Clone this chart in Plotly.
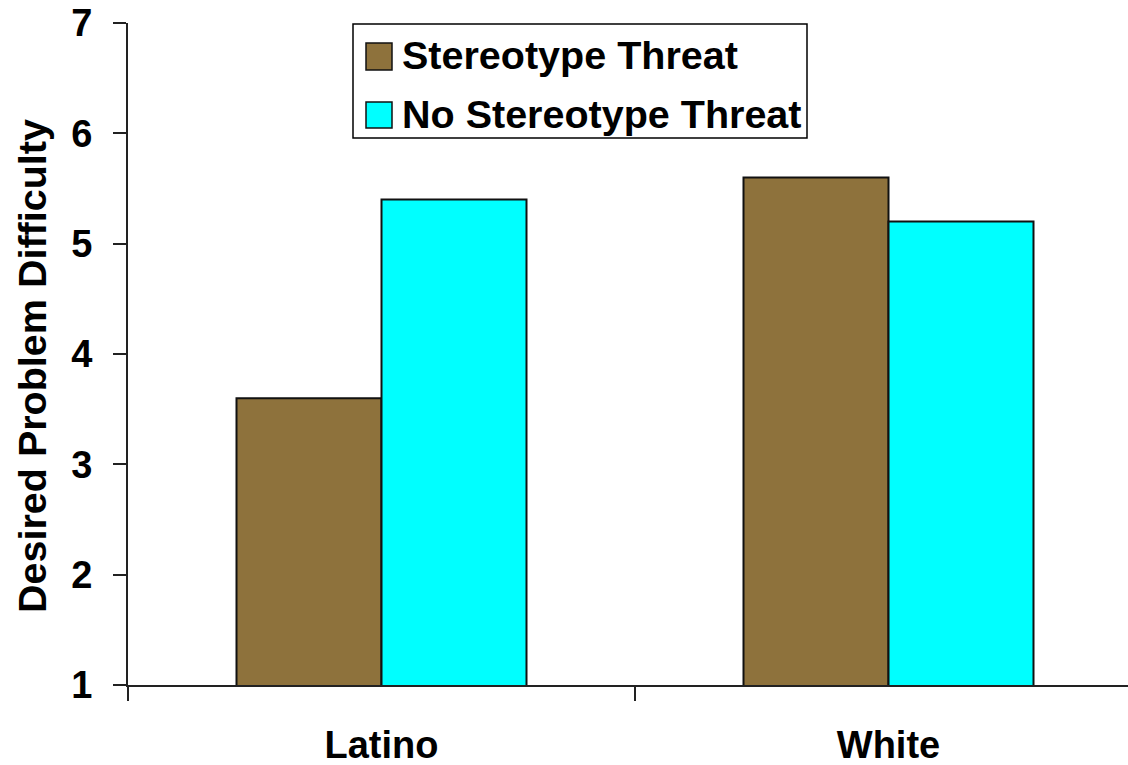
import plotly.graph_objects as go

groups = ["Latino", "White"]
threat = [3.6, 5.6]
no_threat = [5.4, 5.2]
series_names = ["Stereotype Threat", "No Stereotype Threat"]
series_colors = ["#8E723C", "#00FFFF"]
y_ticks = [1, 2, 3, 4, 5, 6, 7]

FONT = "Arial, 'Liberation Sans', sans-serif"

W, H = 1128, 765
L, R, T, B = 128, 0, 23, 80
plot_w = W - L - R
plot_h = H - T - B


def px_x(x):
    return (x - L) / plot_w


def px_y(y):
    return (H - B - y) / plot_h


fig = go.Figure()
for name, vals, col in zip(series_names, [threat, no_threat], series_colors):
    fig.add_trace(go.Bar(
        x=groups, y=vals, name=name, showlegend=False,
        marker=dict(color=col, line=dict(color="#111111", width=2)),
    ))

# category width in px is 507, so the visible range ends short of the last boundary
cat_px = 507
fig.update_layout(
    width=W, height=H,
    margin=dict(l=L, r=R, t=T, b=B),
    paper_bgcolor="white", plot_bgcolor="white",
    barmode="group", bargap=0.428, bargroupgap=0,
    font=dict(family=FONT, color="black", size=38, weight="bold"),
    xaxis=dict(
        range=[-0.5, -0.5 + plot_w / cat_px],
        showline=True, linecolor="#222222", linewidth=2,
        ticks="outside", tickson="boundaries", ticklen=14, tickwidth=2,
        tickcolor="#222222", showgrid=False, zeroline=False,
        tickfont=dict(family=FONT, size=38, weight="bold", color="black"),
        ticklabelstandoff=25,
    ),
    yaxis=dict(
        range=[1, 7], tickvals=y_ticks,
        showline=True, linecolor="#222222", linewidth=2,
        ticks="outside", ticklen=13, tickwidth=2, tickcolor="#222222",
        showgrid=False, zeroline=False,
        tickfont=dict(family=FONT, size=38, weight="bold", color="black"),
        ticklabelstandoff=13,
    ),
)

# axis title
fig.add_annotation(
    text="Desired Problem Difficulty", textangle=-90,
    xref="paper", yref="paper", x=px_x(32), y=px_y(366),
    xanchor="center", yanchor="middle", showarrow=False,
    font=dict(family=FONT, size=39.5, weight="bold", color="black"),
)

# boxed legend
fig.add_shape(
    type="rect", xref="paper", yref="paper",
    x0=px_x(353), x1=px_x(807), y0=px_y(138), y1=px_y(24),
    line=dict(color="black", width=1.5), fillcolor="white", layer="above",
)
legend_rows = [(43, 70), (102, 128)]
for (top, bot), name, col in zip(legend_rows, series_names, series_colors):
    fig.add_shape(
        type="rect", xref="paper", yref="paper",
        x0=px_x(366), x1=px_x(392), y0=px_y(bot), y1=px_y(top),
        line=dict(color="#111111", width=1.5), fillcolor=col, layer="above",
    )
    fig.add_annotation(
        text=name, xref="paper", yref="paper",
        x=px_x(400), y=px_y((top + bot) / 2 - 1),
        xanchor="left", yanchor="middle", showarrow=False,
        font=dict(family=FONT, size=39.5, weight="bold", color="black"),
    )

fig.write_html("out.html")
